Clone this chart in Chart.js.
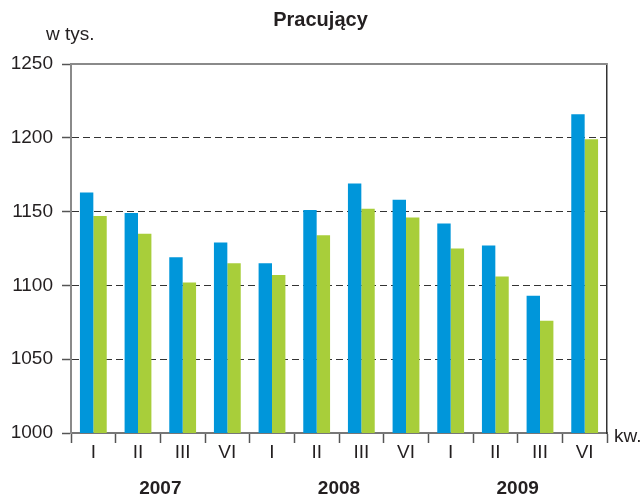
<!DOCTYPE html>
<html>
<head>
<meta charset="utf-8">
<script src="https://cdn.jsdelivr.net/npm/chart.js@4"></script>
<style>
  html, body { margin: 0; padding: 0; background: #fff; }
  #wrap { width: 641px; height: 498px; }
</style>
</head>
<body>
<div id="wrap"><canvas id="chartCanvas" width="641" height="498"></canvas></div>
<script>
// dane z wykresu (w tys.)
const quarters = ['I', 'II', 'III', 'VI', 'I', 'II', 'III', 'VI', 'I', 'II', 'III', 'VI'];
const years = ['2007', '2008', '2009'];
const seriesBlue = [1163, 1149, 1119, 1129, 1115, 1151, 1169, 1158, 1142, 1127, 1093, 1216];
const seriesGreen = [1147, 1135, 1102, 1115, 1107, 1134, 1152, 1146, 1125, 1106, 1076, 1199];
const yTicks = [1000, 1050, 1100, 1150, 1200, 1250];

const FONT = "'Liberation Sans', Arial, sans-serif";

// górna krawędź i napisy "w tys." / "kw."
const extras = {
    id: 'extras',
    afterDraw(chart) {
        const ctx = chart.ctx;
        const a = chart.chartArea;
        ctx.save();
        ctx.strokeStyle = '#8a8a8a';
        ctx.lineWidth = 2;
        ctx.beginPath();
        ctx.moveTo(a.left, a.top);
        ctx.lineTo(a.right, a.top);
        ctx.stroke();

        ctx.fillStyle = '#231f20';
        ctx.font = '19px ' + FONT;
        ctx.textBaseline = 'alphabetic';
        ctx.textAlign = 'left';
        ctx.fillText('w tys.', 46, 40);
        ctx.fillText('kw.', a.right + 7, a.bottom + 9);
        ctx.restore();
    }
};

const ctx = document.getElementById('chartCanvas').getContext('2d');
const chart = new Chart(ctx, {
    type: 'bar',
    data: {
        labels: quarters,
        datasets: [
            {
                data: seriesBlue,
                backgroundColor: '#0096da',
                categoryPercentage: 0.6,
                barPercentage: 1.0
            },
            {
                data: seriesGreen,
                backgroundColor: '#a8ce3a',
                categoryPercentage: 0.6,
                barPercentage: 1.0
            }
        ]
    },
    options: {
        responsive: false,
        animation: false,
        layout: {
            padding: 0
        },
        plugins: {
            legend: { display: false },
            tooltip: { enabled: false },
            title: {
                display: true,
                text: 'Pracujący',
                color: '#231f20',
                font: { family: FONT, size: 20, weight: 'bold', lineHeight: 1.2 },
                padding: { top: 8, bottom: 32 }
            }
        },
        scales: {
            x: {
                type: 'category',
                position: 'bottom',
                weight: 0,
                afterFit(scale) {
                    scale.height = 30;
                },
                grid: {
                    display: true,
                    offset: true,
                    drawOnChartArea: false,
                    tickLength: 10,
                    tickColor: '#555',
                    tickWidth: 1.5
                },
                border: { display: true, color: '#777', width: 2 },
                ticks: {
                    color: '#231f20',
                    padding: 0,
                    font: { family: FONT, size: 19, lineHeight: 1 }
                }
            },
            x2: {
                type: 'category',
                position: 'bottom',
                weight: 1,
                labels: years,
                afterFit(scale) {
                    scale.height = 35;
                },
                grid: { display: false },
                border: { display: false },
                ticks: {
                    color: '#231f20',
                    padding: 8,
                    font: { family: FONT, size: 19, weight: 'bold', lineHeight: 1 }
                }
            },
            y: {
                min: 1000,
                max: 1250,
                afterBuildTicks(scale) {
                    scale.ticks = yTicks.map(v => ({ value: v }));
                },
                afterFit(scale) {
                    scale.width = 71;
                },
                grid: {
                    color: c => (c.tick && (c.tick.value === 1000 || c.tick.value === 1250)) ? 'rgba(0,0,0,0)' : '#333',
                    lineWidth: 1,
                    tickLength: 9,
                    tickColor: '#555',
                    tickWidth: 1.5
                },
                border: { display: true, color: '#8a8a8a', width: 2, dash: [7, 4] },
                ticks: {
                    color: '#231f20',
                    padding: 9,
                    font: { family: FONT, size: 19, lineHeight: 1 },
                    callback: v => String(v)
                }
            },
            // prawa krawędź obszaru wykresu
            y2: {
                position: 'right',
                min: 1000,
                max: 1250,
                afterFit(scale) {
                    scale.width = 34;
                },
                grid: { display: false },
                border: { display: true, color: '#333', width: 1.5 },
                ticks: { display: false }
            }
        }
    },
    plugins: [extras]
});
</script>
</body>
</html>
